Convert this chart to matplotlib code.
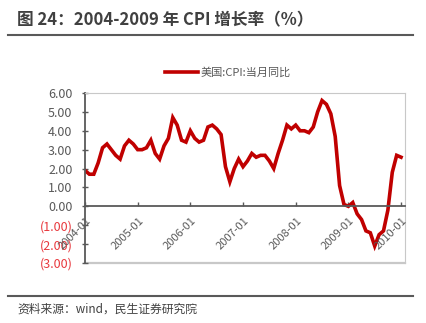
import matplotlib.pyplot as plt
from matplotlib.lines import Line2D
from matplotlib.ticker import FuncFormatter
import matplotlib.transforms as mtransforms

plt.rcParams['font.family'] = ['Noto Sans CJK SC', 'DejaVu Sans']

# US CPI yoy, monthly 2004-01 .. 2010-01
cpi_2004 = [1.9, 1.7, 1.7, 2.3, 3.1, 3.3, 3.0, 2.7, 2.5, 3.2, 3.5, 3.3]
cpi_2005 = [3.0, 3.0, 3.1, 3.5, 2.8, 2.5, 3.2, 3.6, 4.7, 4.3, 3.5, 3.4]
cpi_2006 = [4.0, 3.6, 3.4, 3.5, 4.2, 4.3, 4.1, 3.8, 2.1, 1.3, 2.0, 2.5]
cpi_2007 = [2.1, 2.4, 2.8, 2.6, 2.7, 2.7, 2.4, 2.0, 2.8, 3.5, 4.3, 4.1]
cpi_2008 = [4.3, 4.0, 4.0, 3.9, 4.2, 5.0, 5.6, 5.4, 4.9, 3.7, 1.1, 0.1]
cpi_2009 = [0.0, 0.2, -0.4, -0.7, -1.3, -1.4, -2.1, -1.5, -1.3, -0.2, 1.8, 2.7]
cpi_2010 = [2.6]
cpi = cpi_2004 + cpi_2005 + cpi_2006 + cpi_2007 + cpi_2008 + cpi_2009 + cpi_2010

months = [f"{y}-{m:02d}" for y in range(2004, 2011) for m in range(1, 13)][:len(cpi)]
tick_labels = ["2004-01", "2005-01", "2006-01", "2007-01", "2008-01", "2009-01", "2010-01"]
series_name = "美国:CPI:当月同比"
title = "图 24：2004-2009 年 CPI 增长率（%）"
source = "资料来源：wind，民生证券研究院"

red = "#C00000"
grey = "#595959"

fig = plt.figure(figsize=(4.27, 3.23), dpi=100)
ax = fig.add_axes([85 / 427, 1 - 263 / 323, 320 / 427, 170 / 323])

x = list(range(len(cpi)))
ax.plot(x, cpi, color=red, lw=2.6, solid_joinstyle='miter', label=series_name)

ax.set_xlim(0, 72.9)
ax.set_ylim(-3, 6)
ax.set_yticks([-3, -2, -1, 0, 1, 2, 3, 4, 5, 6])

def fmt(v, pos):
    return f"({abs(v):.2f})" if v < 0 else f"{v:.2f}"

ax.yaxis.set_major_formatter(FuncFormatter(fmt))
ax.tick_params(axis='y', direction='inout', length=4, width=1, color=grey,
               labelsize=9, labelcolor=grey, pad=7)
for lab in ax.get_yticklabels():
    if lab.get_text().startswith("("):
        lab.set_color("#E8383D")

# x ticks on the zero line, labels drawn by hand under it
ax.spines['bottom'].set_position(('data', 0))
ax.set_xticks([months.index(t) for t in tick_labels])
ax.tick_params(axis='x', direction='in', length=3, width=1, color=grey,
               labelbottom=False)
off = mtransforms.ScaledTranslation(3 / 72, -9 / 72, fig.dpi_scale_trans)
for t in tick_labels:
    ax.text(months.index(t), 0, t, rotation=45, ha='right', va='center',
            rotation_mode='anchor', fontsize=8, color=grey,
            transform=ax.transData + off, clip_on=False)

ax.spines['bottom'].set_color(grey)
ax.spines['bottom'].set_linewidth(1.3)
ax.spines['left'].set_color(grey)
ax.spines['left'].set_linewidth(1.3)
for s in ['top', 'right']:
    ax.spines[s].set_color("#C8C8C8")
    ax.spines[s].set_linewidth(0.8)
ax.axhline(-3, color="#C8C8C8", lw=1.6, clip_on=False, zorder=0)

fig.legend(handles=[Line2D([], [], color=red, lw=2.6)], labels=[series_name],
           loc='center left', bbox_to_anchor=(165 / 427, 1 - 73 / 323),
           frameon=False, fontsize=8, handlelength=3.0, handletextpad=0.2,
           labelcolor=grey, borderaxespad=0, borderpad=0)

fig.text(17 / 427, 1 - 20 / 323, title, fontsize=12, fontweight='bold',
         color="#404040", va='center', ha='left')
fig.add_artist(Line2D([8 / 427, 413 / 427], [1 - 35 / 323, 1 - 35 / 323],
                      color=grey, lw=1.5))
fig.add_artist(Line2D([8 / 427, 413 / 427], [1 - 296 / 323, 1 - 296 / 323],
                      color=grey, lw=1.5))
fig.text(17 / 427, 1 - 309 / 323, source, fontsize=8.5, color="#404040",
         va='center', ha='left')

fig.savefig("out.png", dpi=100)
